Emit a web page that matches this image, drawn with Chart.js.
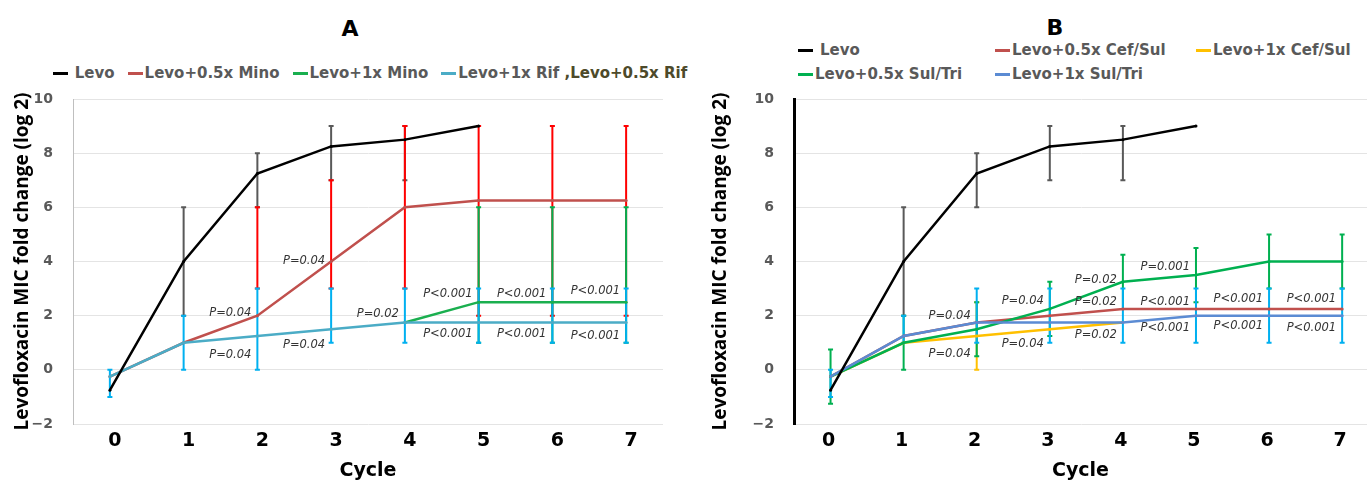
<!DOCTYPE html>
<html>
<head>
<meta charset="utf-8">
<script src="https://cdn.jsdelivr.net/npm/chart.js@4.4.1/dist/chart.umd.min.js"></script>
<style>
html, body { margin: 0; padding: 0; background: #fff; }
body { width: 1371px; height: 482px; position: relative; overflow: hidden; }
.panel-title { position: absolute; transform: translate(-50%, -50%); font: bold 22px "DejaVu Sans", sans-serif; color: #000; }
.legend { position: absolute; font: bold 15px "DejaVu Sans", sans-serif; color: #595959; }
.legend .item { display: flex; align-items: center; white-space: pre; }
.legend .mark { width: 15px; height: 3px; margin-right: 2px; flex: none; }
.legend .extra { color: #4d4a2a; }
#legendA { left: 0; width: 740px; top: 64px; display: flex; justify-content: center; gap: 13px; }
#legendB { left: 798px; top: 41px; display: grid; grid-template-columns: 197px 201px auto; row-gap: 6px; }
.wrap { position: absolute; top: 80px; }
</style>
</head>
<body>
<div class="panel-title" style="left:350px; top:28px;">A</div>
<div class="panel-title" style="left:1055px; top:27px;">B</div>
<div class="legend" id="legendA"></div>
<div class="legend" id="legendB"></div>
<div class="wrap" style="left:0;"><canvas id="chartA" width="690" height="402"></canvas></div>
<div class="wrap" style="left:700px;"><canvas id="chartB" width="671" height="402"></canvas></div>
<script>
const cycles = [0, 1, 2, 3, 4, 5, 6, 7];
const yTitle = "Levofloxacin MIC fold change (log 2)";

/* ---- panel A values ---- */
const levoA = [-0.75, 4, 7.25, 8.25, 8.5, 9, null, null];
const minoHalfA = [-0.25, 1, 2, 4, 6, 6.25, 6.25, 6.25];
const minoOneA = [null, null, null, null, 1.75, 2.5, 2.5, 2.5];
const rifA = [-0.25, 1, 1.25, 1.5, 1.75, 1.75, 1.75, 1.75];

// error ranges [low, high] per cycle
const levoErrA = [null, [2, 6], [6, 8], [7, 9], [7, 9], null, null, null];
const minoHalfErrA = [null, null, [3, 6], [3, 7], [3, 9], [2, 9], [2, 9], [2, 9]];
const minoOneErrA = [null, null, null, null, null, [1, 6], [1, 6], [1, 6]];
const rifErrA = [[-1, 0], [0, 2], [0, 3], [1, 3], [1, 3], [1, 3], [1, 3], [1, 3]];

// [cycle, value, text]
const pLabelsA = [
    [2, 2.1, "P=0.04"], [2, 0.55, "P=0.04"],
    [3, 4.0, "P=0.04"], [3, 0.9, "P=0.04"],
    [4, 2.05, "P=0.02"],
    [5, 2.8, "P<0.001"], [5, 1.33, "P<0.001"],
    [6, 2.8, "P<0.001"], [6, 1.33, "P<0.001"],
    [7, 2.9, "P<0.001"], [7, 1.25, "P<0.001"]
];

/* ---- panel B values ---- */
const levoB = [-0.75, 4, 7.25, 8.25, 8.5, 9, null, null];
const cefHalfB = [-0.25, 1.25, 1.75, 2, 2.25, 2.25, 2.25, 2.25];
const cefOneB = [-0.25, 1, 1.25, 1.5, 1.75, null, null, null];
const triHalfB = [-0.25, 1, 1.5, 2.25, 3.25, 3.5, 4, 4];
const triOneB = [-0.25, 1.25, 1.75, 1.75, 1.75, 2, 2, 2];

const levoErrB = [null, [2, 6], [6, 8], [7, 9], [7, 9], null, null, null];
const cefOneErrB = [null, null, [0, 2.5], null, null, null, null, null];
const triHalfErrB = [[-1.25, 0.75], [0, 2], [0.5, 2.5], [1.25, 3.25], [2.25, 4.25], [2.5, 4.5], [3, 5], [3, 5]];
const triOneErrB = [[-1, 0], [1, 2], [1, 3], [1, 3], [1, 3], [1, 3], [1, 3], [1, 3]];

const pLabelsB = [
    [2, 2.0, "P=0.04"], [2, 0.6, "P=0.04"],
    [3, 2.55, "P=0.04"], [3, 0.95, "P=0.04"],
    [4, 3.3, "P=0.02"], [4, 2.5, "P=0.02"], [4, 1.28, "P=0.02"],
    [5, 3.8, "P=0.001"], [5, 2.5, "P<0.001"], [5, 1.55, "P<0.001"],
    [6, 2.6, "P<0.001"], [6, 1.6, "P<0.001"],
    [7, 2.6, "P<0.001"], [7, 1.55, "P<0.001"]
];

/* ================= PLUGINS ================= */
const errorBars = {
    id: "errorBars",
    beforeDatasetsDraw(chart) {
        const { ctx, scales: { x, y } } = chart;
        ctx.save();
        ctx.lineWidth = 2;
        chart.data.datasets.forEach(ds => {
            if (!ds.errors) return;
            ctx.strokeStyle = ds.errorColor;
            ds.errors.forEach((e, i) => {
                if (!e) return;
                const px = x.getPixelForValue(cycles[i]);
                const lo = y.getPixelForValue(e[0]);
                const hi = y.getPixelForValue(e[1]);
                ctx.beginPath();
                ctx.moveTo(px, lo); ctx.lineTo(px, hi);
                ctx.moveTo(px - 2.5, lo); ctx.lineTo(px + 2.5, lo);
                ctx.moveTo(px - 2.5, hi); ctx.lineTo(px + 2.5, hi);
                ctx.stroke();
            });
        });
        ctx.restore();
    }
};

const pLabels = {
    id: "pLabels",
    afterDatasetsDraw(chart, args, opts) {
        const { ctx, scales: { x, y } } = chart;
        ctx.save();
        ctx.fillStyle = "#333";
        ctx.font = "italic 11.5px 'DejaVu Sans'";
        ctx.textAlign = "right";
        ctx.textBaseline = "middle";
        (opts.items || []).forEach(([c, v, t]) => {
            ctx.fillText(t, x.getPixelForValue(c) - 6, y.getPixelForValue(v));
        });
        ctx.restore();
    }
};

/* ================= HELPERS ================= */
function series(label, values, color, errors, errorColor, order) {
    return {
        label: label,
        data: values.map((v, i) => ({ x: cycles[i], y: v })),
        borderColor: color,
        backgroundColor: color,
        borderWidth: 2.5,
        pointRadius: 1.5,
        pointBorderWidth: 0,
        tension: 0,
        spanGaps: false,
        errors: errors,
        errorColor: errorColor,
        order: order
    };
}

function options(xMax, yWidth, yBorder, titlePad, padRight, labelShift, items) {
    return {
        responsive: false,
        animation: false,
        layout: { padding: { top: 19, right: padRight, left: 0, bottom: 0 } },
        plugins: {
            legend: { display: false },
            tooltip: { enabled: false },
            pLabels: { items: items }
        },
        scales: {
            x: {
                type: "linear",
                min: -0.5,
                max: xMax,
                afterBuildTicks: s => { s.ticks = cycles.map(c => ({ value: c })); },
                ticks: {
                    padding: 6,
                    labelOffset: labelShift,
                    color: "#000",
                    maxRotation: 0,
                    autoSkip: false,
                    font: { family: "DejaVu Sans", weight: "bold", size: 19 },
                    callback: v => String(v)
                },
                grid: { display: false, drawTicks: false },
                border: { display: false },
                title: {
                    display: true,
                    text: "Cycle",
                    color: "#000",
                    padding: 0,
                    font: { family: "DejaVu Sans", weight: "bold", size: 19 }
                },
                afterFit: s => { s.height = 58; }
            },
            y: {
                min: -2,
                max: 10,
                ticks: {
                    stepSize: 2,
                    padding: 3,
                    color: "#595959",
                    font: { family: "DejaVu Sans", weight: "bold", size: 14 },
                    callback: v => String(v).replace("-", "\u2212")
                },
                grid: { color: "#e4e4e4", tickLength: 17, tickColor: "rgba(0,0,0,0)" },
                border: yBorder,
                title: {
                    display: true,
                    text: yTitle,
                    color: "#000",
                    padding: { top: titlePad, bottom: 0 },
                    font: { family: "Open Sans", weight: "bold", size: 19 }
                },
                afterFit: s => { s.width = yWidth; }
            }
        }
    };
}

/* ================= CHART A ================= */
const chartA = new Chart(document.getElementById("chartA").getContext("2d"), {
    type: "line",
    data: {
        datasets: [
            series("Levo", levoA, "#000000", levoErrA, "#595959", 0),
            series("Levo+0.5x Mino", minoHalfA, "#C0504D", minoHalfErrA, "#FF0000", 3),
            series("Levo+1x Mino", minoOneA, "#1AAF4F", minoOneErrA, "#00B050", 2),
            series("Levo+1x Rif ,Levo+0.5x Rif", rifA, "#4BACC6", rifErrA, "#00B0F0", 1)
        ]
    },
    options: options(7.5, 73, { color: "#bfbfbf", width: 1 }, 11, 27, 5, pLabelsA),
    plugins: [errorBars, pLabels]
});

/* ================= CHART B ================= */
const chartB = new Chart(document.getElementById("chartB").getContext("2d"), {
    type: "line",
    data: {
        datasets: [
            series("Levo", levoB, "#000000", levoErrB, "#595959", 0),
            series("Levo+0.5x Cef/Sul", cefHalfB, "#C0504D", null, "#FF0000", 4),
            series("Levo+1x Cef/Sul", cefOneB, "#FFC000", cefOneErrB, "#FFC000", 3),
            series("Levo+0.5x Sul/Tri", triHalfB, "#00B050", triHalfErrB, "#00B050", 2),
            series("Levo+1x Sul/Tri", triOneB, "#5B8BD3", triOneErrB, "#00B0F0", 1)
        ]
    },
    options: options(7.34, 94, { color: "#000", width: 3 }, 9, 0, -2, pLabelsB),
    plugins: [errorBars, pLabels]
});

/* ================= LEGENDS ================= */
function buildLegend(chart, el) {
    chart.data.datasets.forEach(ds => {
        const item = document.createElement("div");
        item.className = "item";
        const mark = document.createElement("span");
        mark.className = "mark";
        mark.style.background = ds.borderColor;
        item.appendChild(mark);
        const parts = ds.label.split(",");
        const txt = document.createElement("span");
        txt.textContent = parts[0];
        item.appendChild(txt);
        if (parts.length > 1) {
            const extra = document.createElement("span");
            extra.className = "extra";
            extra.textContent = "," + parts.slice(1).join(",");
            item.appendChild(extra);
        }
        if (ds.label === "Levo") txt.style.marginLeft = "5px";
        el.appendChild(item);
    });
}
buildLegend(chartA, document.getElementById("legendA"));
buildLegend(chartB, document.getElementById("legendB"));
</script>
</body>
</html>
